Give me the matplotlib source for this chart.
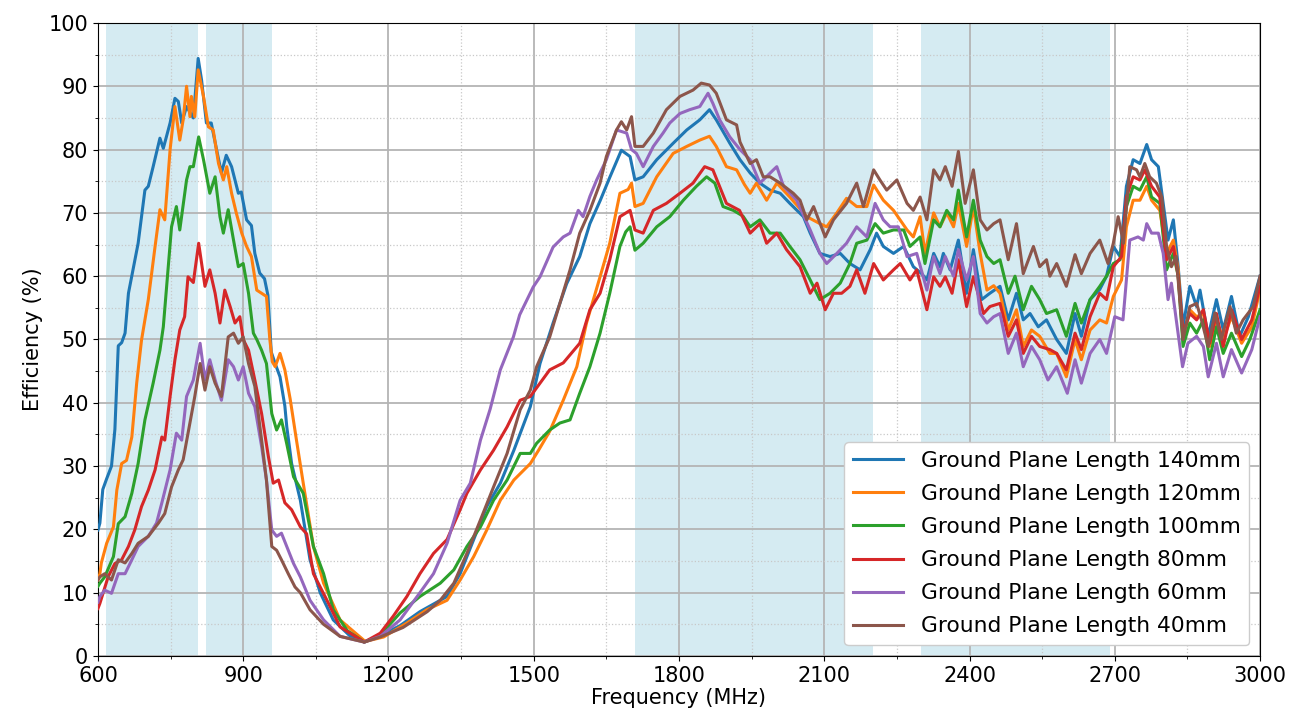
import matplotlib
matplotlib.use("Agg")
import matplotlib.pyplot as plt
from matplotlib.ticker import MultipleLocator

# frequency bands that get shaded (MHz)
bands = [(617, 806), (824, 960), (1710, 2200), (2300, 2690)]

# Ground plane 140 mm
f140 = [600, 604, 610, 618, 628, 635, 642, 649, 656, 663, 683, 697, 704, 714, 728, 735, 749, 759, 766, 773,
        783, 797, 807, 814, 824, 834, 845, 855, 865, 876, 890, 896, 907, 917, 924, 934, 944, 951, 958, 966,
        976, 986, 990, 1000, 1018, 1038, 1059, 1086, 1120, 1150, 1183, 1224, 1265, 1300, 1321, 1348, 1376,
        1403, 1431, 1459, 1493, 1513, 1540, 1568, 1595, 1616, 1637, 1657, 1681, 1699, 1709, 1726, 1754,
        1788, 1816, 1843, 1863, 1877, 1905, 1926, 1947, 1967, 1988, 2009, 2029, 2057, 2071, 2091, 2112,
        2133, 2153, 2174, 2195, 2208, 2222, 2243, 2264, 2284, 2301, 2312, 2326, 2339, 2346, 2360, 2377,
        2394, 2408, 2425, 2442, 2463, 2480, 2497, 2511, 2525, 2542, 2559, 2580, 2600, 2618, 2631, 2649,
        2669, 2683, 2697, 2711, 2724, 2738, 2752, 2766, 2776, 2790, 2800, 2810, 2821, 2831, 2841, 2855,
        2869, 2876, 2893, 2910, 2924, 2941, 2958, 2976, 3000]
e140 = [19.9, 21, 26.3, 28, 30, 35.8, 49, 49.5, 51, 57.3, 65.2, 73.6, 74.2, 77.3, 81.8, 80.2, 84.2, 88.1, 87.6, 84.2,
        86.8, 85, 94.4, 91, 84.2, 84.2, 80, 76.3, 79.1, 77.3, 73.1, 73.3, 68.9, 68, 63.6, 60.5, 59.6, 57, 48, 46.2,
        44.1, 39.5, 36.2, 30.4, 24.6, 15.2, 10, 5.7, 3.2, 2.2, 3.2, 4.8, 7, 8.5, 9.4, 13, 18.4,
        23.6, 27.3, 32.5, 39.4, 46.2, 52.6, 58.8, 63.1, 68.3, 71.9, 75.6, 79.9, 78.9, 75.2, 75.7, 78.4,
        81, 83.1, 84.7, 86.3, 84.7, 81, 78.4, 76.3, 74.7, 73.6, 73.1, 71.5, 69.4, 66.8, 63.6, 63.1,
        63.6, 62, 61, 64.2, 66.8, 64.7, 63.6, 64.7, 61.5, 60.4, 59.4, 63.6, 61.5, 63.6, 61, 65.7,
        57.3, 64.2, 56.3, 57.3, 58.4, 53.1, 57.3, 53.1, 54.1, 52, 53.1, 50, 47.8, 54.1, 50.5, 56.3,
        57.9, 60, 64.7, 63.1, 74.2, 78.4, 77.8, 80.8, 78.4, 77.3, 71.5, 65.7, 68.9, 61.5, 52, 58.4,
        55.2, 57.8, 50.5, 56.3, 51.5, 56.8, 50.5, 53.6, 60]

# Ground plane 120 mm
f120 = [600, 604, 607, 618, 632, 639, 649, 659, 670, 680, 690, 704, 718, 728, 738, 749, 759, 769, 776, 783,
        790, 793, 800, 807, 818, 828, 838, 849, 859, 866, 876, 886, 897, 907, 917, 928, 938, 948, 955, 960,
        966, 976, 986, 997, 1010, 1024, 1045, 1066, 1100, 1152, 1190, 1238, 1279, 1321, 1348, 1376, 1403,
        1431, 1459, 1493, 1510, 1533, 1561, 1589, 1609, 1637, 1657, 1678, 1695, 1702, 1709, 1726, 1754,
        1788, 1816, 1843, 1863, 1877, 1898, 1919, 1935, 1947, 1960, 1981, 2002, 2029, 2064, 2091, 2105,
        2126, 2146, 2167, 2188, 2202, 2222, 2243, 2271, 2284, 2298, 2308, 2326, 2339, 2353, 2367, 2377,
        2394, 2408, 2422, 2436, 2450, 2463, 2480, 2497, 2511, 2528, 2545, 2566, 2580, 2600, 2618, 2631,
        2649, 2669, 2683, 2697, 2714, 2724, 2738, 2752, 2766, 2776, 2793, 2807, 2821, 2831, 2841, 2855,
        2869, 2883, 2896, 2910, 2924, 2941, 2962, 2983, 3000]
e120 = [12, 13, 14.7, 17.8, 20.4, 26.2, 30.4, 30.9, 34.6, 43.1, 49.9, 56.3, 64.7, 70.5, 68.9, 80, 86.8, 81.5, 84.7, 90,
        85.2, 88.4, 85.2, 92.6, 88.4, 83.6, 83.1, 77.8, 75.2, 77.3, 73.1, 69.9, 66.8, 64.7, 63.1, 57.8, 57.3, 56.8, 50, 46.5,
        45.7, 47.8, 45.2, 40.6, 34.1, 27.3, 17.3, 11.5, 5.7, 2.3, 3, 5.2, 7.3, 8.8, 12, 15.7, 19.9,
        24.6, 27.8, 30.4, 32.5, 35.5, 40.4, 45.7, 52.6, 59.9, 65.2, 73.1, 73.7, 74.7, 71, 71.5, 75.7,
        79.4, 80.5, 81.5, 82.1, 80.5, 77.3, 76.8, 74.5, 73.1, 74.7, 72, 74.7, 72.5, 69.4, 68.3, 67.8,
        70, 72.3, 71, 71, 74.4, 72, 70.4, 67.3, 66.2, 69.4, 63.6, 70, 67.8, 70, 67.8, 71.5,
        64.7, 71, 63.6, 57.8, 58.5, 57.3, 51.5, 54.7, 48.9, 51.5, 50.5, 47.8, 47.8, 44.1, 50, 46.8,
        51.5, 53.1, 52.6, 56.8, 59.4, 67.8, 72, 72, 74.2, 72, 70.4, 63.6, 65.7, 61, 50, 54.7,
        53.6, 54.1, 48.9, 53.1, 50, 53.6, 49.4, 52, 57.9]

# Ground plane 100 mm
f100 = [600, 604, 614, 632, 642, 656, 670, 683, 697, 714, 728, 735, 752, 762, 769, 783, 790, 797, 808, 818,
        831, 842, 852, 859, 869, 880, 890, 900, 911, 921, 928, 938, 948, 959, 969, 979, 990, 1004, 1024,
        1045, 1066, 1086, 1115, 1150, 1183, 1224, 1265, 1307, 1335, 1362, 1390, 1417, 1445, 1472, 1493,
        1506, 1533, 1554, 1575, 1595, 1616, 1637, 1657, 1678, 1690, 1699, 1709, 1726, 1754, 1781, 1809,
        1836, 1857, 1874, 1891, 1912, 1932, 1947, 1967, 1988, 2009, 2029, 2050, 2071, 2091, 2112, 2133,
        2153, 2167, 2188, 2205, 2222, 2243, 2264, 2277, 2298, 2308, 2326, 2339, 2353, 2367, 2377, 2394,
        2408, 2422, 2436, 2450, 2463, 2480, 2494, 2511, 2528, 2545, 2559, 2580, 2600, 2618, 2631, 2649,
        2669, 2683, 2697, 2711, 2724, 2738, 2752, 2766, 2776, 2793, 2807, 2821, 2831, 2841, 2855, 2869,
        2883, 2896, 2910, 2924, 2941, 2962, 2979, 3000]
e100 = [11, 11.5, 12.5, 15.7, 20.9, 22, 25.7, 30.4, 37.3, 43.1, 48.3, 52, 67.8, 71, 67.3, 75.2, 77.3, 77.3, 82, 78.4,
        73.1, 75.7, 69.4, 66.8, 70.5, 65.7, 61.5, 62, 57.3, 51, 50, 48.3, 46.2, 38.3, 35.7, 37.3, 33.5, 28.3, 25.7,
        17.3, 13, 7.3, 4, 2.2, 3.3, 6.8, 9.4, 11.5, 13.6, 17.3, 20.4, 24.6, 27.8, 32, 32,
        33.6, 35.7, 36.8, 37.3, 41.5, 45.7, 51, 57.3, 64.7, 67, 67.8, 64.1, 65.2, 67.8, 69.4, 72,
        74.2, 75.7, 74.7, 71, 70.4, 69.5, 67.8, 68.9, 66.8, 66.8, 64.7, 62.6, 59.4, 56.3, 57.3, 58.9,
        62, 65.2, 65.7, 68.3, 66.8, 67.3, 67.3, 64.7, 66.2, 62, 68.9, 67.8, 70.4, 68.9, 73.6, 66.2,
        72, 65.7, 63.1, 62, 62.6, 57.3, 60, 54.7, 58.4, 56.3, 54.1, 54.7, 50.5, 55.7, 52.6, 56.3,
        58.4, 60, 62, 62.6, 71, 74.2, 73.6, 75.7, 72.5, 71.5, 61, 63.6, 60, 48.9, 52.6, 51,
        53.1, 46.8, 52, 47.8, 51, 47.3, 50, 54.7]

# Ground plane 80 mm
f80 = [600, 604, 621, 635, 649, 663, 676, 690, 704, 718, 732, 738, 749, 759, 769, 779, 786, 797, 808, 821,
       831, 842, 852, 862, 873, 883, 893, 900, 911, 924, 938, 952, 962, 973, 986, 1000, 1018, 1031, 1045,
       1073, 1100, 1150, 1183, 1210, 1238, 1265, 1293, 1321, 1348, 1362, 1390, 1417, 1445, 1472, 1493,
       1533, 1561, 1595, 1616, 1637, 1657, 1678, 1699, 1709, 1726, 1747, 1774, 1802, 1829, 1853, 1870,
       1898, 1925, 1947, 1967, 1981, 2002, 2022, 2050, 2071, 2085, 2102, 2119, 2136, 2153, 2167, 2184,
       2202, 2222, 2243, 2257, 2277, 2291, 2312, 2326, 2339, 2350, 2364, 2377, 2394, 2408, 2429, 2442,
       2463, 2480, 2497, 2511, 2528, 2545, 2566, 2580, 2600, 2618, 2631, 2649, 2669, 2683, 2697, 2714,
       2724, 2738, 2752, 2762, 2776, 2793, 2807, 2821, 2831, 2841, 2855, 2869, 2883, 2896, 2910, 2924,
       2941, 2962, 2983, 3000]
e80 = [7.5, 8.3, 12.5, 14.6, 15.2, 17.3, 19.9, 23.6, 26.2, 29.4, 34.6, 34.1, 41, 46.8, 51.5, 53.6, 59.9, 59, 65.2, 58.4,
       61, 57.3, 52.6, 57.8, 55.2, 52.6, 53.6, 50, 48.3, 43.6, 38.3, 31.5, 27.3, 27.8, 24.2, 23.1, 20.4, 19.3, 13,
       8.8, 4.6, 2.2, 3.6, 6.3, 9.4, 13, 16.2, 18.4, 23.1, 25.7, 29.4, 32.5, 36.2, 40.4, 41,
       45.2, 46.3, 49.4, 54.7, 57.3, 62.6, 69.4, 70.4, 67.3, 66.8, 70.4, 71.5, 73.1, 74.7, 77.3, 76.8,
       71.5, 70.4, 66.8, 68.3, 65.2, 66.8, 64.2, 61.5, 57.3, 58.9, 54.7, 57.3, 57.3, 58.4, 61, 57.3,
       62, 59.4, 61, 62, 59.4, 61, 54.7, 59.9, 58.4, 59.9, 57.3, 62.6, 55.2, 59.9, 54.1, 55.2,
       55.7, 50.5, 53.1, 47.8, 50.5, 48.9, 48.4, 47.8, 45.2, 51, 48.4, 53.6, 57.3, 56.3, 61.5, 63.1,
       72.5, 75.7, 75.2, 76.8, 74.2, 72.5, 62.6, 64.7, 60, 51, 54.1, 53.1, 54.7, 49.4, 54.1, 48.9,
       54.7, 50, 53.1, 58.4]

# Ground plane 60 mm
f60 = [600, 604, 614, 628, 642, 656, 670, 683, 704, 721, 732, 749, 762, 773, 783, 797, 811, 821, 831, 842,
       855, 869, 880, 890, 900, 911, 924, 938, 948, 959, 969, 979, 990, 1004, 1018, 1038, 1066, 1100,
       1150, 1183, 1224, 1265, 1293, 1321, 1348, 1369, 1390, 1410, 1431, 1458, 1471, 1499, 1513, 1540,
       1561, 1575, 1592, 1602, 1616, 1630, 1650, 1671, 1692, 1702, 1712, 1726, 1747, 1767, 1781, 1802,
       1822, 1843, 1860, 1870, 1884, 1905, 1926, 1947, 1967, 1995, 2002, 2016, 2043, 2071, 2091, 2105,
       2126, 2146, 2167, 2188, 2205, 2222, 2236, 2253, 2271, 2291, 2312, 2326, 2339, 2350, 2367, 2377,
       2394, 2408, 2422, 2436, 2450, 2463, 2480, 2497, 2511, 2528, 2545, 2562, 2580, 2602, 2618, 2631,
       2649, 2669, 2683, 2700, 2717, 2731, 2748, 2759, 2766, 2776, 2790, 2800, 2810, 2817, 2827, 2840,
       2851, 2869, 2883, 2893, 2910, 2924, 2941, 2962, 2983, 3000]
e60 = [8.5, 9.4, 10.4, 9.9, 13, 13, 15.2, 17.3, 18.9, 21, 24.2, 29.4, 35.2, 34.1, 41, 43.6, 49.4, 43.6, 46.8, 43.6,
       40.4, 46.8, 45.7, 43.6, 45.7, 41.5, 39.4, 33.1, 27.8, 19.9, 18.9, 19.4, 17.3, 14.6, 12.5, 8.8, 5.7, 3.1,
       2.2, 3.1, 5.7, 10, 13, 17.8, 24.6, 27.3, 34.1, 39, 45.2, 50.4, 53.9, 58.3, 59.9, 64.6,
       66.2, 66.8, 70.4, 69.4, 72.6, 75.2, 78.4, 83.1, 82.6, 80, 79.4, 77.3, 80.5, 82.6, 84.2, 85.7,
       86.3, 86.8, 88.9, 87.3, 84.7, 82, 80, 78.4, 74.7, 76.8, 77.3, 74.2, 72, 67.3, 63.6, 62,
       63.6, 65.2, 67.8, 66.2, 71.5, 68.9, 67.8, 67.8, 63.1, 63.6, 57.8, 63.1, 60.4, 63.1, 60, 64.2,
       59.4, 63.1, 54.1, 52.6, 53.6, 54.1, 47.8, 51, 45.7, 48.9, 46.8, 43.6, 45.7, 41.5, 46.8, 43.1,
       47.8, 50, 47.8, 53.6, 53.1, 65.7, 66.2, 65.7, 68.3, 66.8, 66.8, 63.6, 56.3, 58.9, 53.1, 45.7,
       49.4, 50.5, 48.9, 44.1, 49.4, 44.1, 48.4, 44.7, 48.4, 53.6]

# Ground plane 40 mm
f40 = [600, 604, 614, 628, 642, 656, 670, 683, 704, 725, 738, 752, 766, 776, 790, 800, 811, 821, 831, 842,
       855, 869, 880, 890, 900, 911, 924, 938, 948, 959, 969, 979, 993, 1007, 1018, 1038, 1066, 1100,
       1150, 1183, 1230, 1280, 1307, 1335, 1362, 1390, 1417, 1445, 1472, 1493, 1506, 1533, 1554, 1575,
       1595, 1616, 1637, 1650, 1671, 1681, 1692, 1702, 1709, 1726, 1747, 1774, 1802, 1829, 1846, 1863,
       1877, 1898, 1919, 1926, 1947, 1960, 1974, 1988, 2009, 2036, 2050, 2064, 2078, 2102, 2119, 2146,
       2167, 2181, 2202, 2215, 2229, 2250, 2271, 2284, 2298, 2312, 2326, 2339, 2350, 2364, 2377, 2391,
       2408, 2422, 2436, 2450, 2463, 2480, 2497, 2511, 2532, 2545, 2559, 2566, 2580, 2600, 2618, 2631,
       2649, 2669, 2686, 2697, 2707, 2718, 2731, 2745, 2752, 2762, 2772, 2786, 2797, 2807, 2817, 2827,
       2841, 2855, 2869, 2879, 2893, 2907, 2920, 2938, 2951, 2965, 2986, 3000]
e40 = [12, 12.5, 13, 12, 15.2, 14.7, 16.2, 17.8, 18.9, 21, 22.5, 26.7, 29.4, 31, 36.8, 41, 46.2, 42, 45.7, 43.1,
       41, 50.4, 51, 49.4, 50.4, 46.2, 42.6, 34.1, 27.8, 17.3, 16.7, 15.2, 13, 10.9, 10, 7.3, 5, 3.1,
       2.2, 3, 4.5, 7, 8.8, 11.5, 16.2, 21.5, 26.7, 32, 38.9, 42, 45.7, 50.4, 55.7, 61,
       66.8, 70.4, 74.7, 78.9, 83.1, 84.4, 83.1, 85.2, 80.5, 80.5, 82.6, 86.3, 88.4, 89.4, 90.5, 90.2,
       88.9, 84.7, 83.9, 81.2, 77.8, 78.4, 75.7, 75.7, 74.7, 73.1, 72, 68.9, 71, 66.2, 68.9, 71.5,
       74.7, 71, 76.8, 75.2, 73.6, 75.2, 71.5, 70.4, 72.5, 68.9, 76.8, 75.2, 77.3, 74.2, 79.7, 71.5,
       76.8, 68.9, 67.3, 68.3, 68.9, 62.6, 68.3, 60.4, 64.7, 61.5, 62.6, 60, 62, 58.4, 63.4, 60.4,
       63.6, 65.7, 62, 65.2, 69.4, 65.2, 77.3, 76.8, 75.7, 77.8, 75.7, 74.7, 72.5, 64.7, 61.5, 63.1,
       50, 55.2, 55.7, 53.1, 48.9, 54.2, 50, 55.2, 51, 53.1, 55.2, 60]

series = [
    ("Ground Plane Length 140mm", f140, e140),
    ("Ground Plane Length 120mm", f120, e120),
    ("Ground Plane Length 100mm", f100, e100),
    ("Ground Plane Length 80mm", f80, e80),
    ("Ground Plane Length 60mm", f60, e60),
    ("Ground Plane Length 40mm", f40, e40),
]

plt.rcParams["font.size"] = 15

fig = plt.figure(figsize=(12.99, 7.25), dpi=100)
ax = fig.add_axes([0.0754, 0.0952, 0.8946, 0.8731])

for lo, hi in bands:
    ax.axvspan(lo, hi, color="lightblue", alpha=0.5, lw=0, zorder=0)

for label, f, e in series:
    ax.plot(f, e, lw=2.2, label=label, zorder=3)

ax.set_xlim(600, 3000)
ax.set_ylim(0, 100)
ax.xaxis.set_major_locator(MultipleLocator(300))
ax.xaxis.set_minor_locator(MultipleLocator(150))
ax.yaxis.set_major_locator(MultipleLocator(10))
ax.yaxis.set_minor_locator(MultipleLocator(5))
ax.grid(which="major", color="#b4b4b4", lw=1.3, zorder=1)
ax.grid(which="minor", color="#c8c8c8", lw=0.9, ls=":", zorder=1)
ax.set_axisbelow(True)

ax.set_xlabel("Frequency (MHz)", labelpad=2)
ax.set_ylabel("Efficiency (%)")
ax.legend(loc="lower right", fontsize=15.7, framealpha=1, labelspacing=0.6,
          handlelength=2.3)

fig.savefig("out.png", dpi=100)
